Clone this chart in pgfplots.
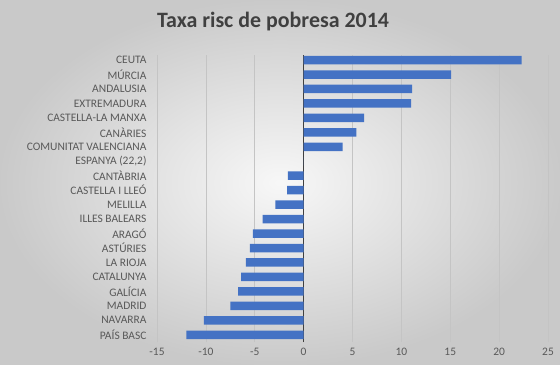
\documentclass[border=0pt]{standalone}
\usepackage{pgfplots}
\pgfplotsset{compat=1.18}
\usepackage{fontspec}
\setmainfont{Carlito}
\definecolor{barblue}{HTML}{4472C4}
\definecolor{txtgray}{HTML}{595959}
\definecolor{gridgray}{HTML}{C4C4C4}

\pgfplotstableread[col sep=comma]{
idx,val
0,-12.0
1,-10.2
2,-7.5
3,-6.7
4,-6.4
5,-5.9
6,-5.5
7,-5.2
8,-4.2
9,-2.9
10,-1.7
11,-1.6
12,0
13,4.0
14,5.4
15,6.2
16,11.0
17,11.1
18,15.1
19,22.3
}\taxa

\begin{document}
\begin{tikzpicture}
% fons del grafic
\shade[inner color=white!97!black, outer color=white!79!black]
  (-157bp,-23bp) rectangle (403bp,342bp);
\node[font=\bfseries\fontsize{22}{26}\selectfont, text=black!75] at (116bp,320bp) {Taxa risc de pobresa 2014};
\begin{axis}[
    at={(0,0)}, anchor=south west,
    scale only axis,
    width=391bp, height=287bp,
    xbar, bar width=8.5bp,
    xmin=-15, xmax=25,
    ymin=-0.5, ymax=19.35,
    xtick={-15,-10,...,25},
    ytick={0,...,19},
    yticklabels={PAÍS BASC,NAVARRA,MADRID,GALÍCIA,CATALUNYA,LA RIOJA,ASTÚRIES,ARAGÓ,ILLES BALEARS,MELILLA,CASTELLA I LLEÓ,CANTÀBRIA,{ESPANYA (22,2)},COMUNITAT VALENCIANA,CANÀRIES,CASTELLA-LA MANXA,EXTREMADURA,ANDALUSIA,MÚRCIA,CEUTA},
    axis line style={draw=none},
    major tick length=0pt,
    xmajorgrids,
    grid style={gridgray, line width=0.6pt},
    extra x ticks={0},
    extra x tick labels={},
    extra x tick style={grid style={black!75, line width=1.3pt}},
    tick label style={font=\fontsize{11.5}{13}\selectfont, text=txtgray},
    /pgf/number format/assume math mode=true,
    xticklabel style={yshift=-3bp},
    yticklabel style={xshift=-7bp},
    clip=false,
]
\addplot[fill=barblue, draw=none] table[x=val, y=idx] {\taxa};
\end{axis}
\end{tikzpicture}
\end{document}
